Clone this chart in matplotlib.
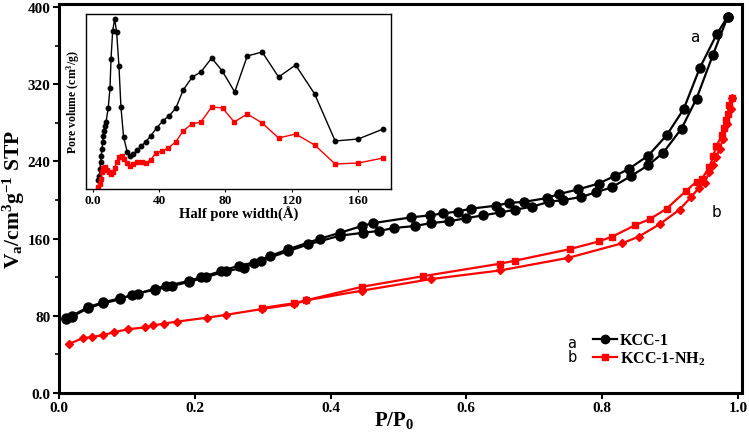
import matplotlib
matplotlib.use("Agg")
import matplotlib.pyplot as plt
from matplotlib.lines import Line2D

plt.rcParams["font.family"] = ["Liberation Serif", "DejaVu Serif"]
plt.rcParams["mathtext.fontset"] = "custom"
plt.rcParams["mathtext.rm"] = "Liberation Serif:bold"
plt.rcParams["mathtext.it"] = "Liberation Serif:bold"
plt.rcParams["mathtext.bf"] = "Liberation Serif:bold"

# KCC-1 isotherm (black): desorption = upper branch, adsorption = lower branch
kcc_des_p = [0.011, 0.019, 0.043, 0.065, 0.090, 0.116, 0.141, 0.158, 0.191, 0.209,
             0.238, 0.265, 0.287, 0.311, 0.338, 0.385, 0.414, 0.446, 0.463, 0.519,
             0.546, 0.565, 0.587, 0.607, 0.643, 0.663, 0.685, 0.719, 0.736, 0.765,
             0.795, 0.819, 0.839, 0.868, 0.895, 0.920, 0.944, 0.969, 0.985]
kcc_des_v = [78, 80, 89, 94, 98, 103, 108, 111, 116, 120,
             126, 132, 135, 142, 149, 160, 166, 173, 176, 182,
             184, 186, 188, 191, 194, 197, 198, 202, 206, 211,
             217, 225, 232, 246, 267, 294, 337, 372, 390]
kcc_ads_p = [0.011, 0.019, 0.043, 0.065, 0.090, 0.108, 0.141, 0.167, 0.191, 0.216,
             0.246, 0.272, 0.297, 0.338, 0.367, 0.414, 0.448, 0.472, 0.494, 0.524,
             0.548, 0.575, 0.599, 0.624, 0.650, 0.672, 0.697, 0.721, 0.743, 0.769,
             0.791, 0.814, 0.843, 0.868, 0.890, 0.917, 0.939, 0.963, 0.985]
kcc_ads_v = [77, 79, 88, 93, 97, 102, 107, 111, 115, 120,
             126, 130, 137, 147, 154, 163, 166, 168, 171, 173,
             176, 178, 181, 184, 187, 190, 193, 198, 200, 203,
             208, 213, 225, 236, 249, 274, 305, 350, 390]

# KCC-1-NH2 isotherm (red)
nh2_des_p = [0.299, 0.346, 0.364, 0.446, 0.536, 0.650, 0.671, 0.752, 0.795, 0.815,
             0.849, 0.870, 0.895, 0.923, 0.939, 0.947, 0.958, 0.964, 0.968, 0.977,
             0.980, 0.982, 0.986, 0.987, 0.991]
nh2_des_v = [88, 93, 96, 110, 121, 134, 137, 149, 157, 162,
             174, 180, 191, 209, 219, 222, 234, 246, 256, 267,
             275, 283, 289, 298, 306]
nh2_ads_p = [0.015, 0.036, 0.049, 0.065, 0.081, 0.101, 0.127, 0.139, 0.155, 0.174,
             0.218, 0.246, 0.299, 0.346, 0.364, 0.446, 0.548, 0.650, 0.750, 0.829,
             0.854, 0.885, 0.914, 0.931, 0.942, 0.951, 0.958, 0.963, 0.968, 0.973,
             0.978, 0.984, 0.990, 0.991]
nh2_ads_v = [51, 57, 58, 60, 63, 66, 68, 70, 72, 74,
             78, 81, 87, 92, 96, 106, 118, 127, 140, 155,
             162, 175, 190, 203, 212, 218, 229, 236, 244, 253,
             263, 279, 294, 306]

# pore size distribution (inset), arbitrary units
kcc_w = [3.2, 3.8, 4.2, 4.6, 5.0, 5.4, 5.9, 6.2, 6.6, 7.2,
         7.9, 9.2, 10.3, 10.9, 11.9, 13.1, 14.3, 15.7, 16.9, 18.5,
         20.7, 22.3, 24.3, 26.8, 29.2, 31.8, 34.8, 38.5, 42.1, 45.9,
         50.1, 54.5, 60.0, 65.2, 71.7, 78.1, 85.6, 93.2, 102.2, 112.1,
         122.4, 133.9, 146.3, 160.2, 175.3]
kcc_pv = [9, 13, 20, 27, 33, 40, 47, 53, 58, 63,
          67, 81, 101, 130, 158, 170, 157, 123, 82, 52,
          37, 33, 35, 39, 43, 47, 53, 61, 68, 73,
          81, 99, 112, 117, 131, 118, 97, 133, 137, 112,
          124, 95, 48, 50, 60]
nh2_w = [3.2, 4.2, 4.8, 5.4, 6.2, 7.2, 8.3, 9.7, 10.9, 12.3,
         13.1, 14.3, 15.9, 17.3, 18.7, 20.4, 22.3, 24.3, 26.8, 29.4,
         31.8, 34.8, 38.0, 41.8, 45.5, 49.9, 54.5, 59.6, 65.2, 71.7,
         78.3, 85.3, 93.2, 102.2, 112.1, 122.4, 133.9, 146.3, 160.2, 175.3]
nh2_pv = [2, 5, 10, 17, 21, 22, 19, 17, 15, 17,
          21, 27, 32, 33, 30, 26, 23, 25, 27, 27,
          26, 29, 36, 38, 41, 47, 58, 65, 67, 82,
          81, 67, 75, 66, 51, 55, 44, 25, 26, 31]

x_ticks = [0.0, 0.2, 0.4, 0.6, 0.8, 1.0]
x_labels = ["0.0", "0.2", "0.4", "0.6", "0.8", "1.0"]
y_ticks = [0, 80, 160, 240, 320, 400]
y_labels = ["0.0", "80", "160", "240", "320", "400"]
inset_ticks = [0, 40, 80, 120, 160]
inset_labels = ["0.0", "40", "80", "120", "160"]

RED = "#ff0000"

fig = plt.figure(figsize=(7.49, 4.39), dpi=100)
ax = fig.add_axes([59 / 749, 45 / 439, 683 / 749, 389 / 439])

ax.plot(kcc_des_p, kcc_des_v, color="black", lw=1.6, marker="o", ms=6.5, zorder=3)
ax.plot(kcc_ads_p, kcc_ads_v, color="black", lw=1.6, marker="o", ms=6.5, zorder=3)
ax.plot(nh2_des_p, nh2_des_v, color=RED, lw=1.6, marker="s", ms=5, zorder=3)
ax.plot(nh2_ads_p, nh2_ads_v, color=RED, lw=1.6, marker="D", ms=4.5, zorder=3)

ax.set_xlim(0, 1.006)
ax.set_ylim(0, 403)
ax.set_xticks(x_ticks)
ax.set_xticklabels(x_labels)
ax.set_yticks(y_ticks)
ax.set_yticklabels(y_labels)
ax.set_yticks([40, 120, 200, 280, 360], minor=True)
ax.tick_params(axis="both", which="major", length=4, width=1.5, labelsize=11, pad=2)
ax.tick_params(axis="y", which="minor", length=3, width=1.2)
for lab in ax.get_xticklabels() + ax.get_yticklabels():
    lab.set_fontweight("bold")
for sp in ax.spines.values():
    sp.set_linewidth(2.2)

ax.set_xlabel("P/P$_0$", fontsize=15, fontweight="bold")
ax.xaxis.set_label_coords(0.49, -0.042)
ax.set_ylabel("V$_a$/cm$^3$g$^{-1}$ STP", fontsize=15.5, fontweight="bold")
ax.yaxis.set_label_coords(-0.047, 0.5)

# curve tags
ax.text(0.936, 369, "a", fontsize=11, family="DejaVu Sans", ha="center", va="center")
ax.text(0.968, 188, "b", fontsize=11, family="DejaVu Sans", ha="center", va="center")

# legend
handles = [Line2D([], [], color="black", lw=1.6, marker="o", ms=6),
           Line2D([], [], color=RED, lw=1.6, marker="s", ms=5)]
leg = ax.legend(handles, ["KCC-1", "KCC-1-NH$_2$"], loc="center left",
                bbox_to_anchor=((593 - 59) / 683, (394 - 350.5) / 389),
                frameon=False, borderpad=0, borderaxespad=0, handlelength=1.5,
                handletextpad=0.2, labelspacing=0.05,
                prop={"family": "Liberation Serif", "weight": "bold", "size": 11.5})
ax.text((572 - 59) / 683, (394 - 343) / 389, "a", transform=ax.transAxes,
        fontsize=10.5, family="DejaVu Sans", ha="center", va="center")
ax.text((572 - 59) / 683, (394 - 358) / 389, "b", transform=ax.transAxes,
        fontsize=10.5, family="DejaVu Sans", ha="center", va="center")

# inset: pore size distribution
ins = fig.add_axes([86 / 749, (439 - 190) / 439, 305 / 749, 175 / 439])
ins.plot(kcc_w, kcc_pv, color="black", lw=1.0, marker="o", ms=3.2)
ins.plot(nh2_w, nh2_pv, color=RED, lw=1.0, marker="s", ms=3.2)
ins.set_xlim(-4.2, 180)
ins.set_ylim(0, 175)
ins.set_xticks(inset_ticks)
ins.set_xticklabels(inset_labels)
ins.set_yticks([])
ins.tick_params(axis="x", length=2, width=0.8, labelsize=9.5, pad=1.5)
for lab in ins.get_xticklabels():
    lab.set_fontweight("bold")
for sp in ins.spines.values():
    sp.set_linewidth(1.0)
ins.set_xlabel("Half pore width(Å)", fontsize=10.5, fontweight="bold", labelpad=0)
ins.set_ylabel("Pore volume (cm$^3$/g)", fontsize=8.5, fontweight="bold", labelpad=3)

fig.savefig("out.png", dpi=100)
